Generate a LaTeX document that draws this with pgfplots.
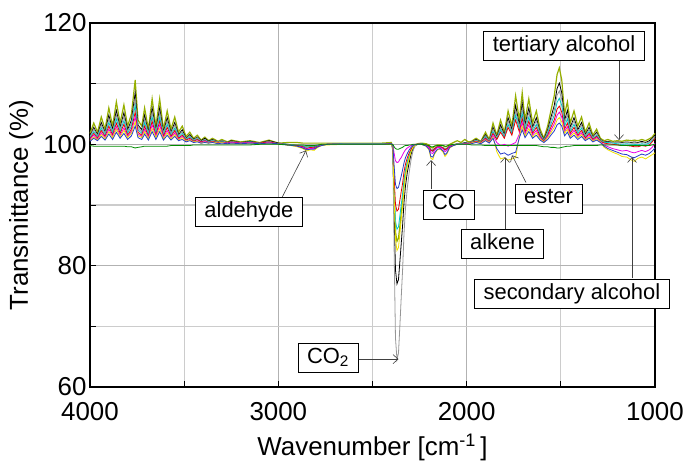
\documentclass[border=0pt]{standalone}
\usepackage{fontspec}
\setmainfont{Liberation Sans}
\usepackage{pgfplots}
\pgfplotsset{compat=1.18}
\usepackage{pgfplotstable}
\usetikzlibrary{arrows.meta}

\definecolor{cOl}{RGB}{150,175,0}
\definecolor{cBk}{RGB}{0,0,0}
\definecolor{cGy}{RGB}{150,150,150}
\definecolor{cCy}{RGB}{0,200,200}
\definecolor{cRe}{RGB}{230,0,0}
\definecolor{cMa}{RGB}{230,0,230}
\definecolor{cYe}{RGB}{240,225,0}
\definecolor{cBl}{RGB}{40,60,200}
\definecolor{cGr}{RGB}{0,140,0}

\pgfplotstableread{
x ol bk gy cy re ma ye bl gr
4000 101.8 101.4 101.3 101.1 100.9 100.8 100.6 100.5 99.8
3980 103.5 102.8 102.5 102.1 101.8 101.5 101.2 101.0 99.7
3960 102.0 101.6 101.4 101.2 101.0 100.8 100.7 100.6 99.7
3940 104.5 103.6 103.2 102.7 102.3 101.9 101.6 101.3 99.7
3920 102.5 102.0 101.8 101.5 101.3 101.1 100.9 100.7 99.7
3900 106.0 104.8 104.2 103.6 103.0 102.5 102.1 101.7 99.7
3880 103.0 102.4 102.1 101.8 101.5 101.3 101.1 100.8 99.7
3860 107.0 105.6 104.9 104.2 103.5 102.9 102.5 102.0 99.7
3840 103.5 102.8 102.5 102.1 101.8 101.5 101.2 101.0 99.7
3820 106.5 105.2 104.6 103.9 103.3 102.7 102.3 101.8 99.7
3800 103.0 102.4 102.1 101.8 101.5 101.3 101.1 100.8 99.6
3780 105.0 104.0 103.5 103.0 102.5 102.1 101.8 101.4 99.6
3760 110.6 108.5 107.4 106.4 105.3 104.5 103.7 103.0 99.4
3745 104.0 103.2 102.8 102.4 102.0 101.7 101.4 101.1 99.5
3725 103.0 102.4 102.1 101.8 101.5 101.3 101.1 100.8 99.6
3710 106.0 104.8 104.2 103.6 103.0 102.5 102.1 101.7 99.7
3690 102.5 102.0 101.8 101.5 101.3 101.1 100.9 100.7 99.7
3670 107.5 106.0 105.3 104.5 103.8 103.2 102.6 102.1 99.7
3650 103.0 102.4 102.1 101.8 101.5 101.3 101.1 100.8 99.7
3630 107.5 106.0 105.3 104.5 103.8 103.2 102.6 102.1 99.7
3610 102.5 102.0 101.8 101.5 101.3 101.1 100.9 100.7 99.7
3590 105.5 104.4 103.9 103.3 102.8 102.3 101.9 101.5 99.7
3570 102.5 102.0 101.8 101.5 101.3 101.1 100.9 100.7 99.8
3550 104.5 103.6 103.2 102.7 102.3 101.9 101.6 101.3 99.8
3530 102.0 101.6 101.4 101.2 101.0 100.8 100.7 100.6 99.8
3510 103.0 102.4 102.1 101.8 101.5 101.3 101.1 100.8 99.8
3490 101.3 101.0 100.9 100.8 100.7 100.5 100.5 100.4 99.8
3470 102.0 101.6 101.4 101.2 101.0 100.8 100.7 100.6 99.8
3450 101.0 100.8 100.7 100.6 100.5 100.4 100.4 100.3 99.9
3430 101.5 101.2 101.1 100.9 100.8 100.6 100.5 100.4 99.9
3410 100.7 100.6 100.5 100.4 100.4 100.3 100.2 100.2 99.9
3390 101.2 101.0 100.8 100.7 100.6 100.5 100.4 100.3 99.9
3370 100.6 100.5 100.4 100.4 100.3 100.3 100.2 100.2 99.9
3350 101.0 100.8 100.7 100.6 100.5 100.4 100.4 100.3 99.9
3320 100.5 100.4 100.4 100.3 100.3 100.2 100.2 100.1 99.9
3300 100.8 100.6 100.6 100.5 100.4 100.3 100.3 100.2 99.9
3270 100.4 100.3 100.3 100.2 100.2 100.2 100.1 100.1 99.9
3250 100.7 100.6 100.5 100.4 100.4 100.3 100.2 100.2 99.9
3200 100.4 100.3 100.3 100.2 100.2 100.2 100.1 100.1 99.9
3150 100.6 100.5 100.4 100.4 100.3 100.3 100.2 100.2 99.9
3100 100.3 100.2 100.2 100.2 100.2 100.1 100.1 100.1 100.0
3050 100.7 100.6 100.5 100.4 100.4 100.3 100.2 100.2 100.0
3000 100.2 100.2 100.1 100.1 100.1 100.1 100.1 100.1 100.0
2950 100.3 100.0 100.0 100.0 99.9 99.9 99.9 99.9 99.9
2900 100.3 99.8 99.9 99.8 99.8 99.7 99.6 99.7 99.9
2870 100.2 99.7 99.8 99.7 99.6 99.5 99.3 99.4 99.9
2850 100.2 99.6 99.6 99.5 99.3 99.2 98.9 99.1 99.8
2830 100.2 99.6 99.7 99.6 99.5 99.3 99.1 99.2 99.8
2810 100.2 99.6 99.7 99.5 99.4 99.3 99.0 99.2 99.8
2790 100.2 99.8 99.8 99.8 99.7 99.6 99.5 99.6 99.9
2770 100.2 99.9 99.9 99.9 99.9 99.9 99.8 99.8 100.0
2740 100.2 100.0 100.0 100.0 100.0 100.0 99.9 100.0 100.0
2650 100.2 100.1 100.1 100.1 100.0 100.0 100.0 100.0 100.0
2550 100.2 100.1 100.1 100.1 100.0 100.0 100.0 100.0 100.0
2450 100.2 100.1 100.1 100.1 100.0 100.0 100.0 100.0 100.0
2400 100.3 100.1 100.1 100.1 100.1 100.1 100.0 100.1 100.0
2392 99.5 99.3 98.9 99.6 99.7 99.9 99.5 99.8 100.0
2385 92.0 88.5 82.3 93.0 94.5 98.5 91.3 96.4 99.6
2378 85.6 79.3 68.1 87.4 90.1 97.3 84.3 93.4 99.3
2370 84.0 77.0 64.5 86.0 89.0 97.0 82.5 92.7 99.2
2362 84.5 77.7 65.6 86.4 89.3 97.1 83.0 92.9 99.2
2355 86.4 80.5 69.8 88.1 90.7 97.5 85.1 93.8 99.3
2348 88.5 83.4 74.4 89.9 92.1 97.8 87.4 94.7 99.4
2340 90.7 86.7 79.4 91.9 93.6 98.3 89.9 95.8 99.5
2333 93.3 90.3 85.1 94.1 95.4 98.7 92.7 96.9 99.7
2325 95.2 93.1 89.4 95.8 96.7 99.1 94.8 97.8 99.8
2315 96.8 95.4 92.9 97.2 97.8 99.4 96.5 98.5 99.8
2305 97.9 97.0 95.4 98.2 98.6 99.6 97.7 99.1 99.9
2295 98.9 98.4 97.5 99.0 99.2 99.8 98.8 99.5 99.9
2285 99.5 99.3 98.9 99.6 99.7 99.9 99.5 99.8 100.0
2275 99.9 99.8 99.7 99.9 99.9 100.0 99.8 99.9 100.0
2260 100.1 100.0 100.0 100.0 100.0 100.0 100.0 100.0 100.0
2240 100.2 100.1 100.0 100.1 100.0 100.0 100.0 100.0 100.0
2215 100.1 99.9 99.9 99.9 99.9 99.8 99.7 99.7 99.9
2200 99.9 99.6 99.7 99.6 99.6 99.5 99.1 99.2 99.8
2190 99.5 99.0 99.2 99.0 99.0 98.6 97.7 98.0 99.6
2180 99.4 98.9 99.1 98.9 98.9 98.5 97.5 97.9 99.6
2170 99.7 99.3 99.4 99.3 99.3 99.0 98.4 98.6 99.7
2155 99.9 99.6 99.7 99.6 99.6 99.5 99.1 99.2 99.8
2140 99.9 99.6 99.7 99.6 99.6 99.5 99.2 99.3 99.8
2125 99.8 99.4 99.5 99.4 99.4 99.2 98.7 98.9 99.8
2115 99.6 99.1 99.3 99.1 99.1 98.8 98.0 98.3 99.7
2105 99.7 99.3 99.4 99.3 99.3 99.0 98.4 98.6 99.7
2090 100.0 99.7 99.8 99.7 99.7 99.6 99.4 99.5 99.9
2070 100.3 99.9 99.9 99.9 99.9 99.9 99.8 99.8 100.0
2050 100.6 100.1 100.1 100.0 100.0 100.0 100.0 100.0 100.0
2030 100.3 100.1 100.1 100.1 100.0 100.0 100.0 100.0 100.0
2010 100.8 100.3 100.2 100.2 100.1 100.1 100.0 100.0 100.0
1990 100.4 100.2 100.2 100.1 100.1 100.1 100.0 100.0 100.0
1975 100.5 100.4 100.4 100.3 100.3 100.2 100.2 100.1 99.9
1950 101.0 100.8 100.7 100.6 100.5 100.4 100.4 100.3 99.9
1925 100.5 100.4 100.4 100.3 100.3 100.2 100.2 100.1 99.9
1900 102.0 101.6 101.4 101.2 101.0 100.8 100.7 100.6 99.8
1880 100.8 100.6 100.6 100.5 100.4 100.3 100.3 100.2 99.8
1860 103.5 102.8 102.5 102.1 101.8 101.5 101.2 101.0 99.8
1840 101.5 101.2 101.1 100.9 100.8 100.3 98.8 99.3 99.8
1820 104.0 103.2 102.8 102.4 102.0 99.8 97.6 98.4 99.8
1800 102.0 101.6 101.4 101.2 101.0 100.0 97.8 98.6 99.8
1780 105.5 104.4 103.9 103.3 102.8 99.7 97.4 98.2 99.8
1760 103.0 102.4 102.1 101.8 101.5 100.0 97.6 98.5 99.8
1740 108.0 106.4 105.6 104.8 104.0 100.3 97.8 98.7 99.8
1720 104.0 103.2 102.8 102.4 102.0 101.7 101.4 101.1 99.8
1705 108.5 106.8 106.0 105.1 104.3 103.6 103.0 102.4 99.8
1690 104.0 103.2 102.8 102.4 102.0 101.7 101.4 101.1 99.8
1670 107.5 106.0 105.3 104.5 103.8 103.2 102.6 102.1 99.8
1650 103.5 102.8 102.5 102.1 101.8 101.5 101.2 101.0 99.8
1630 105.5 104.4 103.9 103.3 102.8 102.3 101.9 101.5 99.8
1610 102.5 102.0 101.8 101.5 101.3 101.1 100.9 100.7 99.7
1590 101.0 100.8 100.7 100.6 100.5 100.4 100.4 100.3 99.6
1570 103.0 102.4 102.1 101.8 101.5 101.3 101.1 100.8 99.6
1553 105.5 104.4 103.9 103.3 102.8 102.3 101.9 101.5 99.5
1535 108.0 106.4 105.6 104.8 104.0 103.4 102.8 102.2 99.5
1520 111.5 109.2 108.1 106.9 105.8 104.8 104.0 103.2 99.4
1508 112.6 110.1 108.8 107.6 106.3 105.3 104.4 103.5 99.4
1495 110.6 108.5 107.4 106.4 105.3 104.5 103.7 103.0 99.5
1480 105.0 104.0 103.5 103.0 102.5 102.1 101.8 101.4 99.6
1465 107.0 105.6 104.9 104.2 103.5 102.9 102.5 102.0 99.7
1450 103.5 102.8 102.5 102.1 101.8 101.5 101.2 101.0 99.7
1430 105.5 104.4 103.9 103.3 102.8 102.3 101.9 101.5 99.8
1410 103.0 102.4 102.1 101.8 101.5 101.3 101.1 100.8 99.8
1390 104.5 103.6 103.2 102.7 102.3 101.9 101.6 101.3 99.8
1370 102.0 101.6 101.4 101.2 101.0 100.8 100.7 100.6 99.8
1350 103.5 102.8 102.5 102.1 101.8 101.5 101.2 101.0 99.8
1330 101.5 101.2 101.1 100.9 100.8 100.6 100.5 100.4 99.8
1310 102.5 102.0 101.8 101.5 101.3 101.1 100.9 100.7 99.8
1290 101.0 100.8 100.7 100.6 100.5 100.4 100.4 100.3 99.9
1270 100.6 100.4 100.4 100.3 100.2 99.9 99.5 99.7 99.9
1250 100.8 100.5 100.4 100.3 100.1 99.6 99.1 99.3 99.9
1225 100.5 100.3 100.3 100.2 100.0 99.3 98.7 99.0 99.9
1200 100.6 100.4 100.3 100.1 99.9 99.1 98.4 98.7 99.9
1175 100.5 100.3 100.2 100.0 99.8 98.9 98.0 98.4 99.8
1150 100.7 100.4 100.3 100.1 99.8 99.0 97.9 98.3 99.8
1125 100.6 100.3 100.2 100.0 99.7 98.7 97.4 97.9 99.8
1110 100.7 100.4 100.2 100.0 99.6 98.6 97.2 97.8 99.8
1090 100.6 100.3 100.2 99.9 99.6 98.8 97.7 98.1 99.8
1070 100.8 100.5 100.3 100.1 99.8 99.0 97.9 98.4 99.8
1050 100.6 100.3 100.2 100.0 99.7 98.8 97.6 98.2 99.8
1030 100.9 100.6 100.4 100.2 99.9 99.1 98.0 98.5 99.8
1015 101.2 101.0 100.8 100.6 100.4 99.5 98.3 98.9 99.9
1000 101.8 101.5 101.3 101.0 101.0 100.2 98.6 99.4 100.0
}\spec

\tikzset{
  box/.style={draw=black, line width=0.6bp, fill=white,
    font=\fontsize{22}{22}\selectfont, inner xsep=9bp, inner ysep=4bp,
    text height=16bp, text depth=5bp},
  arr/.style={line width=0.6bp, black!75, -{Straight Barb[length=5bp,width=9bp]}}
}

\begin{document}
\begin{tikzpicture}
\begin{axis}[
  at={(0,0)}, anchor=south west,
  scale only axis, width=565bp, height=364bp,
  x dir=reverse, xmin=1000, xmax=4000, ymin=60, ymax=120,
  xtick={1000,2000,3000,4000}, minor xtick={1500,2500,3500},
  ytick={60,80,100,120}, minor ytick={70,90,110},
  grid=both,
  major grid style={gray!60, line width=1.1bp},
  minor grid style={gray!40, line width=1.1bp},
  tick align=inside, major tick length=6bp, minor tick length=6bp,
  xtick pos=bottom, ytick pos=left,
  tick style={black, line width=0.8bp},
  axis line style={black, line width=1.6bp},
  ticklabel style={font=\fontsize{26}{26}\selectfont},
  /pgf/number format/assume math mode=true,
  /pgf/number format/1000 sep={},
  xticklabel style={yshift=-12bp},
  label style={font=\fontsize{26}{26}\selectfont},
  xlabel={Wavenumber [cm\textsuperscript{-1}\,]},
  ylabel={Transmittance (\%)},
  xlabel style={at={(axis description cs:0.5,-0.165)}, anchor=center},
  ylabel style={at={(axis description cs:-0.122,0.5)}, anchor=center},
  every axis plot/.append style={line width=0.8bp, mark=none},
  clip=false,
]
\addplot[cOl, line width=1.2bp] table[x=x,y=ol] {\spec};
\addplot[cBk] table[x=x,y=bk] {\spec};
\addplot[cGy] table[x=x,y=gy] {\spec};
\addplot[cCy] table[x=x,y=cy] {\spec};
\addplot[cRe] table[x=x,y=re] {\spec};
\addplot[cMa] table[x=x,y=ma] {\spec};
\addplot[cYe] table[x=x,y=ye] {\spec};
\addplot[cBl] table[x=x,y=bl] {\spec};
\addplot[cGr] table[x=x,y=gr] {\spec};

\coordinate (ta1) at (axis cs:1191,113.7);
\coordinate (ta2) at (axis cs:1191,100.7);
\coordinate (tb) at (axis cs:1483,116.2);
\coordinate (al1) at (axis cs:2981,91.2);
\coordinate (al2) at (axis cs:2853,99.0);
\coordinate (alb) at (axis cs:3156,88.9);
\coordinate (co1) at (axis cs:2189,92.6);
\coordinate (co2) at (axis cs:2189,97.4);
\coordinate (cob) at (axis cs:2096,90.1);
\coordinate (es1) at (axis cs:1685,93.7);
\coordinate (es2) at (axis cs:1759,98.2);
\coordinate (esb) at (axis cs:1565,91.1);
\coordinate (ak1) at (axis cs:1796,86.1);
\coordinate (ak2) at (axis cs:1796,97.9);
\coordinate (akb) at (axis cs:1810,83.6);
\coordinate (sa1) at (axis cs:1122,77.9);
\coordinate (sa2) at (axis cs:1122,97.9);
\coordinate (sab) at (axis cs:1441,75.4);
\coordinate (cd1) at (axis cs:2598,64.6);
\coordinate (cd2) at (axis cs:2362,64.6);
\coordinate (cdb) at (axis cs:2736,64.8);
\end{axis}

\draw[arr] (ta1) -- (ta2);
\node[box] at (tb) {tertiary alcohol};
\draw[arr] (al1) -- (al2);
\node[box] at (alb) {aldehyde};
\draw[arr] (co1) -- (co2);
\node[box] at (cob) {CO};
\draw[arr] (es1) -- (es2);
\node[box] at (esb) {ester};
\draw[arr] (ak1) -- (ak2);
\node[box] at (akb) {alkene};
\draw[arr] (sa1) -- (sa2);
\node[box] at (sab) {secondary alcohol};
\draw[arr] (cd1) -- (cd2);
\node[box] at (cdb) {CO\textsubscript{2}};

\pgfresetboundingbox
\path[use as bounding box] (-90bp,-79bp) rectangle (597bp,387bp);
\end{tikzpicture}
\end{document}
